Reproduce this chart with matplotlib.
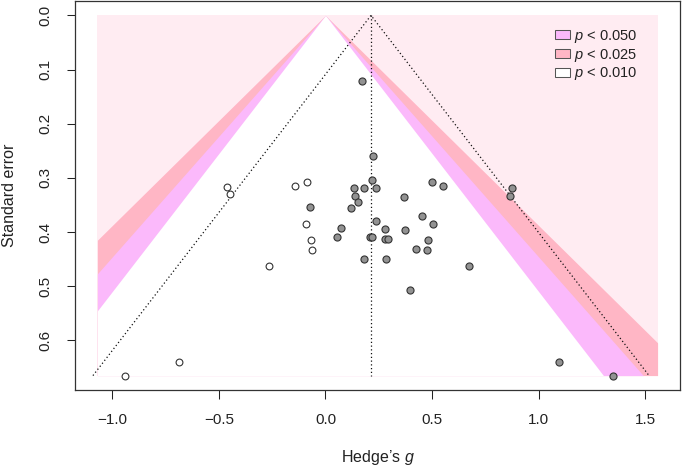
import numpy as np
import matplotlib
matplotlib.use("Agg")
import matplotlib.pyplot as plt
from matplotlib.patches import Patch

plt.rcParams['font.family'] = ['Liberation Sans', 'DejaVu Sans']
plt.rcParams['mathtext.fontset'] = 'custom'
plt.rcParams['mathtext.it'] = 'Liberation Sans:italic'
plt.rcParams['mathtext.rm'] = 'Liberation Sans'

# observed studies (Hedge's g, standard error)
obs_g = [0.172, 0.223, 0.216, 0.133, 0.181, 0.239, 0.138, 0.153, 0.119,
         0.499, 0.551, 0.370, -0.071, 0.235, 0.072, 0.052, 0.209, 0.216,
         0.281, 0.281, 0.292, 0.375, 0.452, 0.504, 0.480, 0.424, 0.476,
         0.181, 0.286, 0.671, 0.398, 0.876, 0.865, 1.097, 1.348]
obs_se = [0.122, 0.259, 0.303, 0.318, 0.318, 0.318, 0.334, 0.344, 0.356,
          0.307, 0.315, 0.336, 0.354, 0.380, 0.393, 0.409, 0.409, 0.410,
          0.395, 0.412, 0.412, 0.397, 0.370, 0.385, 0.415, 0.432, 0.433,
          0.449, 0.449, 0.462, 0.507, 0.318, 0.333, 0.639, 0.665]

# filled (imputed) studies
fill_g = [-0.938, -0.686, -0.460, -0.446, -0.264, -0.143, -0.088, -0.093, -0.069, -0.065]
fill_se = [0.665, 0.639, 0.317, 0.330, 0.463, 0.315, 0.307, 0.386, 0.415, 0.434]

estimate = 0.2135
shade_xlim = (-1.069, 1.557)

p_labels = ["$p$ < 0.050", "$p$ < 0.025", "$p$ < 0.010"]
z_vals = [1.960, 2.241, 2.576]
band_cols = ["#FBB9FB", "#FFB6C5", "#FFFFFF"]
outer_col = "#FFECF2"

se_max = max(obs_se + fill_se)
x0, x1 = shade_xlim
w = x1 - x0

fig = plt.figure(figsize=(6.83, 4.69), dpi=100)
ax = fig.add_axes([75/683, 1 - 390/469, 605/683, 389/469])

# contour shading, centered on 0
ax.fill_betweenx([0, se_max], x0, x1, color=outer_col, lw=0)
se_grid = np.linspace(0, se_max, 800)
fill_order = [(z_vals[2], band_cols[1]), (z_vals[1], band_cols[0]), (z_vals[0], "white")]
for z, col in fill_order:
    left = np.maximum(-z * se_grid, x0)
    right = np.minimum(z * se_grid, x1)
    ax.fill_betweenx(se_grid, left, right, color=col, lw=0)

# pseudo confidence region + estimate
dot = (0, (1, 2))
ax.plot([estimate - 1.96 * se_max, estimate, estimate + 1.96 * se_max],
        [se_max, 0, se_max], color="#111111", lw=0.9, ls=dot)
ax.plot([estimate, estimate], [0, se_max], color="#111111", lw=0.9, ls=dot)

ax.scatter(fill_g, fill_se, s=24, facecolor="white", edgecolor="#333333", lw=0.8, zorder=3)
ax.scatter(obs_g, obs_se, s=26, facecolor="#929292", edgecolor="#333333", lw=0.8, zorder=3)

ax.set_xlim(x0 - 0.04 * w, x1 + 0.04 * w)
ax.set_ylim(se_max * 1.04, -0.04 * se_max)

ax.set_xticks([-1.0, -0.5, 0.0, 0.5, 1.0, 1.5])
ax.set_xticklabels(["\u22121.0", "\u22120.5", "0.0", "0.5", "1.0", "1.5"])
ax.set_yticks([0.0, 0.1, 0.2, 0.3, 0.4, 0.5, 0.6])
ax.set_yticklabels(["0.0", "0.1", "0.2", "0.3", "0.4", "0.5", "0.6"],
                   rotation=90, rotation_mode="anchor", ha="center", va="bottom")
ax.tick_params(axis="x", length=6.5, width=0.75, pad=10, labelsize=11, colors="#222222")
ax.tick_params(axis="y", length=5.5, width=0.75, pad=11, labelsize=11, colors="#222222")
for s in ax.spines.values():
    s.set_linewidth(0.9)
    s.set_color("#333333")

fig.text(377.5/683, 1 - 457/469, "Hedge\u2019s $g$", ha="center", va="center",
         fontsize=11.5, color="#222222")
fig.text(9.5/683, 1 - 195.5/469, "Standard error", ha="center", va="center",
         rotation=90, fontsize=11.5, color="#222222")

handles = [Patch(facecolor=c, edgecolor="#555555", lw=0.75) for c in band_cols]
ax.legend(handles, p_labels, loc="upper left", bbox_to_anchor=(555/683, 1 - 28/469),
          bbox_transform=fig.transFigure, frameon=False, fontsize=10.5,
          handlelength=1.0, handleheight=0.58, handletextpad=0.3,
          labelspacing=0.12, borderpad=0, borderaxespad=0, labelcolor="#222222")

fig.savefig("out.png", dpi=100)
